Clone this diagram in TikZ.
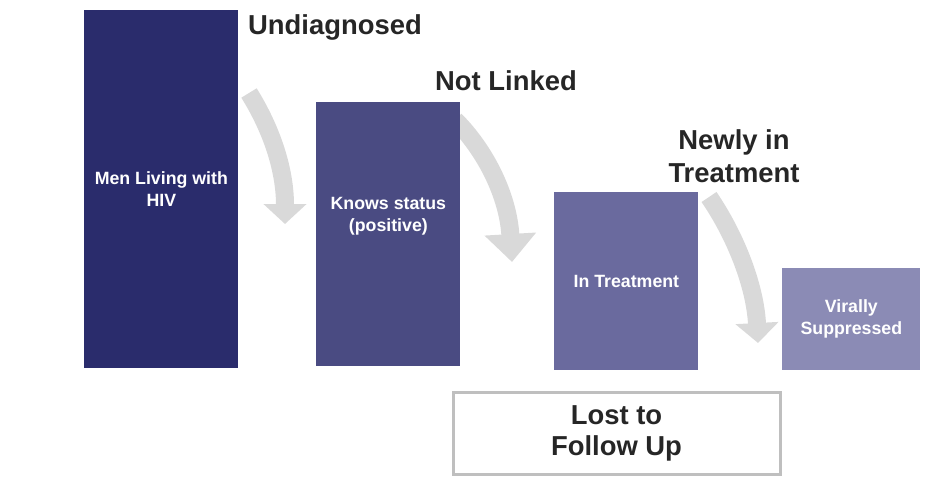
\documentclass[tikz,border=0pt]{standalone}
\usepackage{fontspec}
\setmainfont{Liberation Sans}
\usetikzlibrary{arrows.meta}
\definecolor{barA}{HTML}{2A2C6C}
\definecolor{barB}{HTML}{4A4B82}
\definecolor{barC}{HTML}{6A6A9E}
\definecolor{barD}{HTML}{8B8BB5}
\definecolor{flowgray}{HTML}{D9D9D9}
\definecolor{boxgray}{HTML}{BFBFBF}
\definecolor{headtext}{HTML}{262626}
\tikzset{every node/.style={inner sep=0pt, align=center},
  bar/.style={anchor=north west, text=white, font=\bfseries\fontsize{10.1}{12.5}\selectfont},
  head/.style={text=headtext, font=\bfseries\fontsize{15.6}{18.6}\selectfont},
  flow/.style={flowgray, line width=3.6mm, -{Triangle[width=8.4mm,length=4mm]}}}

\begin{document}
\begin{tikzpicture}[x=0.2mm,y=-0.2mm]
   \useasboundingbox (0,0) rectangle (927,478);
   % the flow arrows sit behind the bars
   \coordinate (a1) at (249,93);  \coordinate (t1) at (285,224);
   \coordinate (a2) at (455,120); \coordinate (t2) at (512,262);
   \coordinate (a3) at (709,197); \coordinate (t3) at (758,343);
   \draw[flow] (a1) .. controls (272,130) and (285,170) .. (t1);
   \draw[flow,-{Triangle[width=10mm,length=5.6mm]}] (a2) .. controls (485,150) and (508,195) .. (t2);
   \draw[flow] (a3) .. controls (735,235) and (755,285) .. (t3);
   % bars
   \node[bar,fill=barA,minimum width=30.8mm,minimum height=71.6mm] (men) at (84,10) {Men Living with\\HIV};
   \node[bar,fill=barB,minimum width=28.8mm,minimum height=52.8mm] (knows) at (316,102) {Knows status\\(positive)\\[3.5mm]};
   \node[bar,fill=barC,minimum width=28.8mm,minimum height=35.6mm] (treat) at (554,192) {In Treatment};
   \node[bar,fill=barD,minimum width=27.6mm,minimum height=20.4mm] (supp) at (782,268) {Virally\\Suppressed};
   % labels
   \node[head] (undiag) at (335,27) {Undiagnosed};
   \node[head] (notlinked) at (506,81) {Not Linked};
   \node[head] (newly) at (734,156) {Newly in\\Treatment};
   \node[head,draw=boxgray,line width=1.7pt,minimum width=65.4mm,minimum height=16.4mm,
         font=\bfseries\fontsize{15.6}{17.6}\selectfont] (lost) at (616.5,433) {Lost to\\Follow Up};
\end{tikzpicture}
\end{document}
